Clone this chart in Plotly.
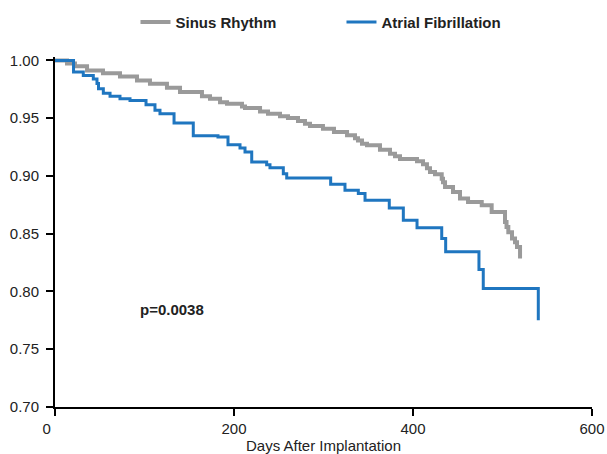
import plotly.graph_objects as go

# Sinus Rhythm (days, survival)
sr_days = [0, 13.4, 22.3, 35.8, 53.6, 72.6, 91.6, 106.1, 125.1, 139.7, 164.2, 173.2, 184.4,
           192.2, 208.9, 212.3, 229.1, 238.0, 251.4, 260.3, 271.5, 279.3, 284.9, 299.4,
           311.7, 326.3, 335.2, 338.5, 343.0, 348.6, 363.1, 374.3, 379.9, 385.5, 404.5,
           411.2, 415.6, 419.0, 424.6, 432.1, 433.5, 435.8, 444.7, 452.5, 461.5, 476.8,
           487.9, 502.8, 504.5, 506.5, 510.6, 514.0, 516.2, 519.6]
sr_surv = [1.0, 0.9974, 0.9951, 0.9913, 0.9890, 0.9862, 0.9827, 0.9799, 0.9764, 0.9726,
           0.9691, 0.9669, 0.9639, 0.9626, 0.9602, 0.9588, 0.9559, 0.9539, 0.9518, 0.9501,
           0.9477, 0.9453, 0.9432, 0.9409, 0.9380, 0.9352, 0.9326, 0.9308, 0.9280, 0.9265,
           0.9228, 0.9193, 0.9170, 0.9148, 0.9127, 0.9101, 0.9066, 0.9034, 0.9014, 0.8977,
           0.8945, 0.8905, 0.8861, 0.8804, 0.8775, 0.8746, 0.8688, 0.8602, 0.8559, 0.8513,
           0.8458, 0.8426, 0.8386, 0.8286]

# Atrial Fibrillation (days, survival)
af_days = [0, 20.7, 31.6, 42.8, 46.9, 48.6, 54.0, 61.5, 72.6, 83.8, 101.7, 111.7, 117.3,
           133.0, 154.5, 182.1, 193.3, 206.7, 212.3, 219.8, 236.5, 240.2, 255.1, 258.9,
           308.0, 324.0, 338.9, 346.4, 373.5, 389.2, 404.5, 432.1, 436.5, 473.7, 478.5, 540.0]
af_surv = [1.0, 0.990, 0.987, 0.984, 0.980, 0.9755, 0.9717, 0.9691, 0.9669, 0.9654, 0.9617,
           0.9568, 0.9539, 0.9458, 0.9349, 0.9337, 0.9271, 0.9242, 0.9207, 0.9121, 0.9098,
           0.9072, 0.9020, 0.8982, 0.8928, 0.8876, 0.8848, 0.8790, 0.8723, 0.8617, 0.8552,
           0.8458, 0.8343, 0.8190, 0.8026, 0.7752]

x_ticks = [0, 200, 400, 600]
x_labels = ["0\u2007\u2007", "200", "400", "600"]
y_ticks = [0.70, 0.75, 0.80, 0.85, 0.90, 0.95, 1.00]
y_labels = ["0.70", "0.75", "0.80", "0.85", "0.90", "0.95", "1.00"]

FONT = "Liberation Sans, Arial, sans-serif"

fig = go.Figure()
fig.add_trace(go.Scatter(x=sr_days, y=sr_surv, mode="lines", name="<b>Sinus Rhythm</b>",
                         line=dict(color="#9a9a9a", width=4, shape="hv")))
fig.add_trace(go.Scatter(x=af_days, y=af_surv, mode="lines", name="<b>Atrial Fibrillation</b>",
                         line=dict(color="#1f76c0", width=3, shape="hv")))

fig.add_annotation(x=92.7, y=0.7847, xref="x", yref="y", text="<b>p=0.0038</b>",
                   showarrow=False, xanchor="left", yanchor="middle",
                   font=dict(family=FONT, size=15, color="#222222"))

fig.update_layout(
    width=607, height=454,
    margin=dict(l=55, r=15, t=57, b=47),
    plot_bgcolor="white", paper_bgcolor="white",
    font=dict(family=FONT, size=15, color="#222222"),
    showlegend=True,
    legend=dict(orientation="h", xref="container", yref="container",
                x=0.2232, y=0.951, xanchor="left", yanchor="middle",
                font=dict(family=FONT, size=15, color="#222222"),
                entrywidth=161, entrywidthmode="pixels", itemwidth=30,
                bgcolor="rgba(0,0,0,0)"),
    xaxis=dict(range=[0, 600], tickvals=x_ticks, ticktext=x_labels, showgrid=False,
               zeroline=False, automargin=False,
               showline=True, linecolor="black", linewidth=2,
               ticks="outside", ticklen=7, tickwidth=2, tickcolor="black",
               title=dict(text="Days After Implantation", standoff=2,
                          font=dict(family=FONT, size=15, color="#222222")),
               tickfont=dict(family=FONT, size=15, color="#222222")),
    yaxis=dict(range=[0.70, 1.003], tickvals=y_ticks, ticktext=y_labels, showgrid=False,
               zeroline=False, automargin=False, showline=True, linecolor="black", linewidth=2,
               ticks="outside", ticklen=7, tickwidth=2, tickcolor="black",
               ticklabelstandoff=4,
               tickfont=dict(family=FONT, size=15, color="#222222")),
)

fig.write_html("out.html", config={"displayModeBar": False},
               post_script="document.body.style.margin='0px';")
